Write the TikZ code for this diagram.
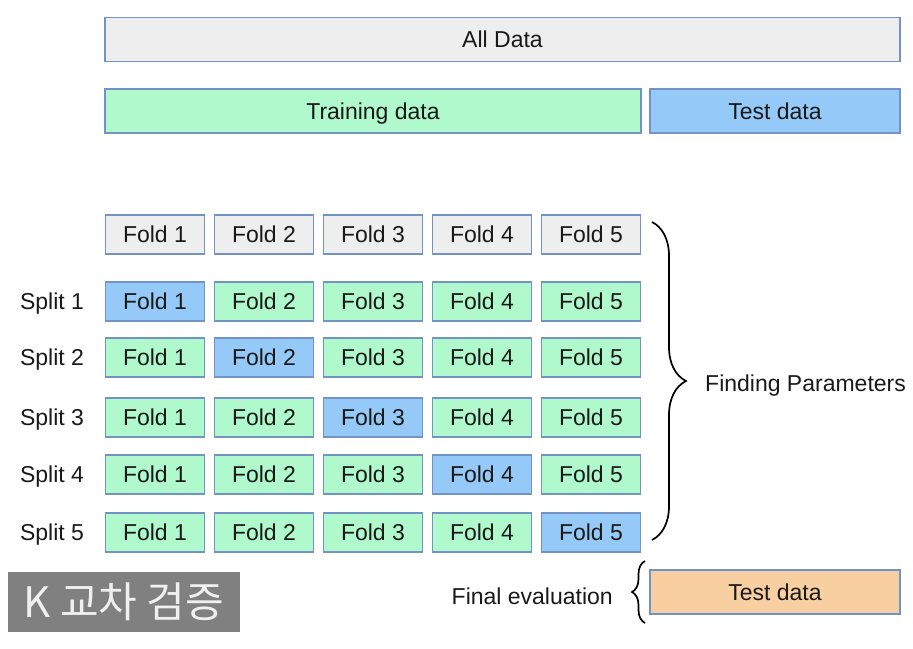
\documentclass[tikz,border=0pt]{standalone}
\usepackage{fontspec}
\setmainfont{Liberation Sans}
\newfontfamily\krfont{Noto Sans CJK KR}
\usetikzlibrary{decorations.pathreplacing}

\definecolor{boxline}{HTML}{7393C4}
\definecolor{allgray}{HTML}{EEEEEE}
\definecolor{traingreen}{HTML}{B0F9CC}
\definecolor{testblue}{HTML}{95C9F7}
\definecolor{testorange}{HTML}{F8CFA0}
\definecolor{labelgray}{HTML}{808080}

\tikzset{
  databox/.style={draw=boxline, line width=1.1pt, minimum height=44, inner sep=0pt, text height=16.5pt, text depth=0pt, font=\fontsize{23}{27}\selectfont},
  fold/.style={draw=boxline, line width=1.1pt, minimum width=99, minimum height=39, inner sep=0pt, text height=16.5pt, text depth=0pt, font=\fontsize{23}{27}\selectfont},
  plain/.style={inner sep=0pt, text height=16.5pt, text depth=0pt, font=\fontsize{23}{27}\selectfont},
  curly/.style={decorate, line width=1.7pt}
}

\begin{document}
\begin{tikzpicture}[x=1pt, y=-1pt, text=black!90]
\useasboundingbox (0,0) rectangle (913,648);

\node (all) [databox, fill=allgray, minimum width=795] at (502.5,39.5) {All Data};
\node (train) [databox, fill=traingreen, minimum width=536] at (373,111) {Training data};
\node (test) [databox, fill=testblue, minimum width=250] at (775,111) {Test data};

\node (f01) [fold, fill=allgray] at (155,234.5) {Fold 1};
\node (f02) [fold, fill=allgray] at (264,234.5) {Fold 2};
\node (f03) [fold, fill=allgray] at (373,234.5) {Fold 3};
\node (f04) [fold, fill=allgray] at (482,234.5) {Fold 4};
\node (f05) [fold, fill=allgray] at (591,234.5) {Fold 5};

\node (s1) [plain] at (52,301.5) {Split 1};
\node (f11) [fold, fill=testblue] at (155,301.5) {Fold 1};
\node (f12) [fold, fill=traingreen] at (264,301.5) {Fold 2};
\node (f13) [fold, fill=traingreen] at (373,301.5) {Fold 3};
\node (f14) [fold, fill=traingreen] at (482,301.5) {Fold 4};
\node (f15) [fold, fill=traingreen] at (591,301.5) {Fold 5};

\node (s2) [plain] at (52,357.5) {Split 2};
\node (f21) [fold, fill=traingreen] at (155,357.5) {Fold 1};
\node (f22) [fold, fill=testblue] at (264,357.5) {Fold 2};
\node (f23) [fold, fill=traingreen] at (373,357.5) {Fold 3};
\node (f24) [fold, fill=traingreen] at (482,357.5) {Fold 4};
\node (f25) [fold, fill=traingreen] at (591,357.5) {Fold 5};

\node (s3) [plain] at (52,417.5) {Split 3};
\node (f31) [fold, fill=traingreen] at (155,417.5) {Fold 1};
\node (f32) [fold, fill=traingreen] at (264,417.5) {Fold 2};
\node (f33) [fold, fill=testblue] at (373,417.5) {Fold 3};
\node (f34) [fold, fill=traingreen] at (482,417.5) {Fold 4};
\node (f35) [fold, fill=traingreen] at (591,417.5) {Fold 5};

\node (s4) [plain] at (52,474.5) {Split 4};
\node (f41) [fold, fill=traingreen] at (155,474.5) {Fold 1};
\node (f42) [fold, fill=traingreen] at (264,474.5) {Fold 2};
\node (f43) [fold, fill=traingreen] at (373,474.5) {Fold 3};
\node (f44) [fold, fill=testblue] at (482,474.5) {Fold 4};
\node (f45) [fold, fill=traingreen] at (591,474.5) {Fold 5};

\node (s5) [plain] at (52,532.5) {Split 5};
\node (f51) [fold, fill=traingreen] at (155,532.5) {Fold 1};
\node (f52) [fold, fill=traingreen] at (264,532.5) {Fold 2};
\node (f53) [fold, fill=traingreen] at (373,532.5) {Fold 3};
\node (f54) [fold, fill=traingreen] at (482,532.5) {Fold 4};
\node (f55) [fold, fill=testblue] at (591,532.5) {Fold 5};

% braces
\coordinate (ptop) at (652,222);
\coordinate (pbot) at (652,540);
\draw [curly, decoration={brace, amplitude=34}] (ptop) -- (pbot);
\node (params) [plain, anchor=west] at (705,383) {Finding Parameters};

\node (final) [databox, fill=testorange, minimum width=250] at (775,592) {Test data};
\coordinate (etop) at (645,561);
\coordinate (ebot) at (645,623);
\draw [curly, decoration={brace, amplitude=13}] (ebot) -- (etop);
\node (evalu) [plain, anchor=east] at (613,596) {Final evaluation};

\node (kfold) [fill=labelgray, text=white!94!black, minimum width=232, minimum height=60, inner sep=0pt, font=\krfont\fontsize{42}{46}\selectfont] at (124,602) {K 교차 검증};
\end{tikzpicture}
\end{document}
